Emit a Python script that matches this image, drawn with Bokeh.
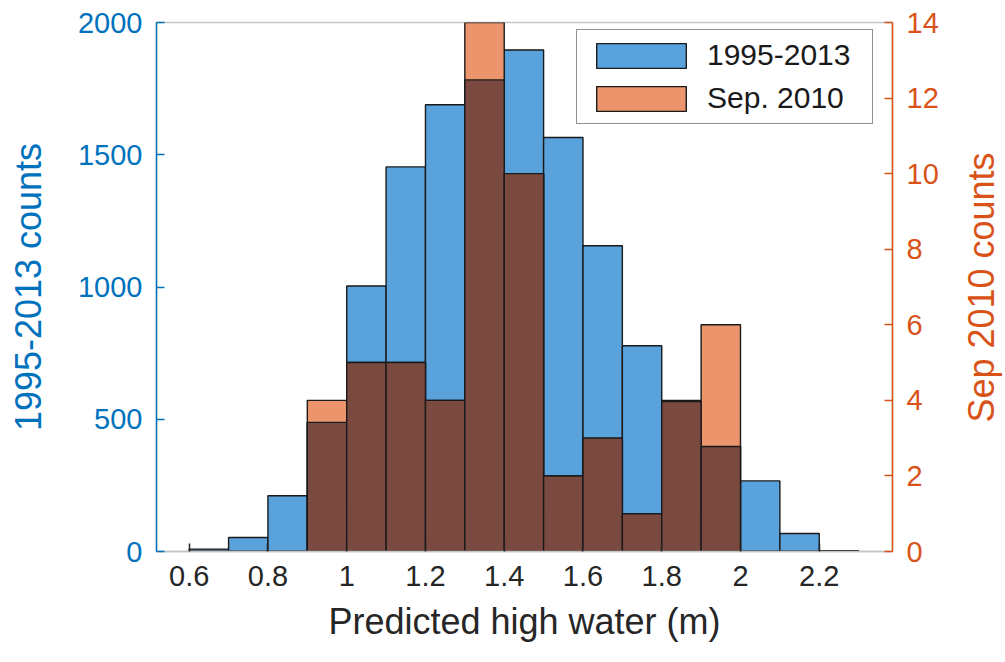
import math
from bokeh.plotting import figure
from bokeh.layouts import row
from bokeh.models import (Range1d, LinearAxis, FixedTicker, ColumnDataSource,
                          Legend, LegendItem)
from bokeh.core.properties import value
from bokeh.embed import file_html
from bokeh.resources import INLINE

# ---- data ----
bin_left = [0.6, 0.7, 0.8, 0.9, 1.0, 1.1, 1.2, 1.3, 1.4, 1.5, 1.6, 1.7, 1.8, 1.9, 2.0, 2.1, 2.2]
bin_right = [0.7, 0.8, 0.9, 1.0, 1.1, 1.2, 1.3, 1.4, 1.5, 1.6, 1.7, 1.8, 1.9, 2.0, 2.1, 2.2, 2.3]
counts_1995_2013 = [9, 53, 211, 488, 1004, 1454, 1689, 1783, 1896, 1565, 1156, 778, 567, 397, 267, 68, 3]
counts_sep_2010 = [0, 0, 0, 4, 5, 5, 4, 14, 10, 2, 3, 1, 4, 6, 0, 0, 0]
x_ticks = [0.6, 0.8, 1.0, 1.2, 1.4, 1.6, 1.8, 2.0, 2.2]
x_tick_labels = ["0.6", "0.8", "1", "1.2", "1.4", "1.6", "1.8", "2", "2.2"]
left_ticks = [0, 500, 1000, 1500, 2000]
right_ticks = [0, 2, 4, 6, 8, 10, 12, 14]
series_names = ["1995-2013", "Sep. 2010"]
x_title = "Predicted high water (m)"
left_title = "1995-2013 counts"
right_title = "Sep 2010 counts"

LEFT_MAX = 2000
RIGHT_MAX = 14

BLUE_AX = "#0072bd"
ORANGE_AX = "#d95319"
BLUE_FILL = "#5aa2db"
ORANGE_FILL = "#ec956c"
DARK_FILL = "#7a4940"
FONT = "Liberation Sans"
TICK_SIZE = "29px"
LABEL_SIZE = "36px"

W_MAIN, W_SIDE, H = 945, 60, 662

p = figure(width=W_MAIN, height=H, output_backend="svg", toolbar_location=None,
           x_range=Range1d(0.517, 2.386), y_range=Range1d(0, LEFT_MAX),
           min_border_left=156, min_border_right=53, min_border_top=22,
           min_border_bottom=111, x_axis_location="below", y_axis_location="left")
p.extra_y_ranges = {"right": Range1d(0, RIGHT_MAX)}
p.grid.visible = False
p.outline_line_color = "#c4c4c4"
p.outline_line_width = 1.5
p.background_fill_color = "white"
p.border_fill_color = "white"

# scale Sep-2010 counts to left units to find where the two bars overlap
scale = LEFT_MAX / RIGHT_MAX
overlap_top = [min(b, o * scale) for b, o in zip(counts_1995_2013, counts_sep_2010)]

src = ColumnDataSource(dict(left=bin_left, right=bin_right,
                            blue=counts_1995_2013, orange=counts_sep_2010,
                            overlap=overlap_top))

r_blue = p.quad(left="left", right="right", bottom=0, top="blue", source=src,
                fill_color=BLUE_FILL, line_color="#1a1a1a", line_width=1.4)
r_orange = p.quad(left="left", right="right", bottom=0, top="orange", source=src,
                  y_range_name="right", fill_color=ORANGE_FILL,
                  line_color="#1a1a1a", line_width=1.4)
p.quad(left="left", right="right", bottom=0, top="overlap", source=src,
       fill_color=DARK_FILL, line_color="#1a1a1a", line_width=1.4)

# axes
xa = p.xaxis[0]
xa.ticker = FixedTicker(ticks=x_ticks)
xa.major_label_overrides = {t: s for t, s in zip(x_ticks, x_tick_labels)}
xa.axis_label = x_title
ya = p.yaxis[0]
ya.ticker = FixedTicker(ticks=left_ticks)
ya.axis_label = left_title

ra = LinearAxis(y_range_name="right", ticker=FixedTicker(ticks=right_ticks))
p.add_layout(ra, "right")

for ax in (xa, ya, ra):
    ax.major_label_text_font = FONT
    ax.major_label_text_font_size = TICK_SIZE
    ax.axis_label_text_font = FONT
    ax.axis_label_text_font_size = LABEL_SIZE
    ax.axis_label_text_font_style = "normal"
    ax.major_tick_in = 8
    ax.major_tick_out = 0
    ax.minor_tick_line_color = None
    ax.axis_line_width = 1.5
    ax.major_tick_line_width = 1.5

xa.axis_line_color = "#c4c4c4"
xa.major_tick_line_color = "#262626"
xa.major_label_text_color = "#262626"
xa.axis_label_text_color = "#262626"
xa.major_label_standoff = 14
xa.axis_label_standoff = 12

ya.axis_line_color = BLUE_AX
ya.major_tick_line_color = BLUE_AX
ya.major_label_text_color = BLUE_AX
ya.axis_label_text_color = BLUE_AX
ya.major_label_standoff = 14
ya.axis_label_standoff = 26

ra.axis_line_color = ORANGE_AX
ra.major_tick_line_color = ORANGE_AX
ra.major_label_text_color = ORANGE_AX
ra.major_label_standoff = 14

legend = Legend(items=[LegendItem(label=series_names[0], renderers=[r_blue]),
                       LegendItem(label=series_names[1], renderers=[r_orange])],
                location=(420, 427))
legend.label_text_font = FONT
legend.label_text_font_size = "30px"
legend.label_text_color = "#1a1a1a"
legend.glyph_width = 112
legend.glyph_height = 31
legend.label_height = 31
legend.label_width = 157
legend.label_standoff = 10
legend.padding = 8
legend.spacing = 9
legend.margin = 0
legend.border_line_color = "#262626"
legend.border_line_width = 1.5
legend.background_fill_color = "white"
legend.background_fill_alpha = 1.0
p.add_layout(legend, "center")

# narrow side strip carrying the right-axis title, reading bottom to top
side = figure(frame_width=W_SIDE, frame_height=H, output_backend="svg",
              toolbar_location=None,
              x_range=Range1d(0, W_SIDE), y_range=Range1d(0, H),
              x_axis_location=None, y_axis_location=None, min_border=0)
side.title.visible = False
side.grid.visible = False
side.outline_line_color = None
side.background_fill_color = "white"
side.border_fill_color = "white"
side.text(x=[36], y=[H - 265], text=[right_title], angle=math.pi / 2,
          text_align="center", text_baseline="middle",
          text_font=value(FONT), text_font_size=value(LABEL_SIZE),
          text_color=ORANGE_AX)

layout = row(p, side, spacing=0)
html = file_html(layout, INLINE)
open("out.html", "w").write(html)
